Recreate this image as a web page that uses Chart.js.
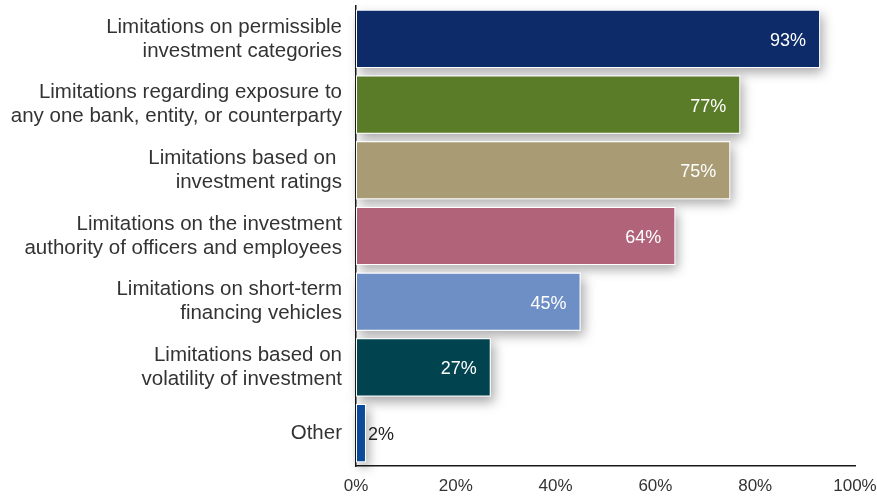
<!DOCTYPE html>
<html>
<head>
<meta charset="utf-8">
<script src="https://cdn.jsdelivr.net/npm/chart.js@4"></script>
<style>
  html, body { margin: 0; padding: 0; background: #fff; }
  #wrap { width: 877px; height: 497px; position: relative; }
</style>
</head>
<body>
<div id="wrap"><canvas id="myChart"></canvas></div>
<script>
const categories = [
  ["Limitations on permissible", "investment categories"],
  ["Limitations regarding exposure to", "any one bank, entity, or counterparty"],
  ["Limitations based on ", "investment ratings"],
  ["Limitations on the investment", "authority of officers and employees"],
  ["Limitations on short-term", "financing vehicles"],
  ["Limitations based on", "volatility of investment"],
  "Other",
];
const values = [93, 77, 75, 64, 45, 27, 2];
const barColors = ["#0d2b69", "#5a7b27", "#a99c75", "#b16479", "#6e8fc6", "#01444f", "#0a4a99"];
const xTicks = [0, 20, 40, 60, 80, 100];

const FONT = "'Liberation Sans', Arial, sans-serif";

// soft drop shadow behind each bar, drawn before the bars themselves
const barShadow = {
  id: "barShadow",
  beforeDatasetsDraw(chart) {
    const ctx = chart.ctx;
    ctx.save();
    ctx.shadowColor = "rgba(0,0,0,0.35)";
    ctx.shadowBlur = 11;
    ctx.shadowOffsetX = 3;
    ctx.shadowOffsetY = 5;
    ctx.fillStyle = "#fff";
    chart.getDatasetMeta(0).data.forEach((bar) => {
      const left = Math.min(bar.base, bar.x);
      ctx.fillRect(left, bar.y - bar.height / 2, Math.abs(bar.x - bar.base), bar.height);
    });
    ctx.restore();
  },
};

// percentage labels at the end of each bar
const valueLabels = {
  id: "valueLabels",
  afterDatasetsDraw(chart) {
    const ctx = chart.ctx;
    ctx.save();
    ctx.font = "18px " + FONT;
    ctx.textBaseline = "middle";
    chart.getDatasetMeta(0).data.forEach((bar, i) => {
      const text = values[i] + "%";
      if (values[i] < 10) {
        ctx.fillStyle = "#222";
        ctx.textAlign = "left";
        ctx.fillText(text, bar.x + 2, bar.y + 2);
      } else {
        ctx.fillStyle = "#fff";
        ctx.textAlign = "right";
        ctx.fillText(text, bar.x - 14, bar.y + 2);
      }
    });
    ctx.restore();
  },
};

const ctx = document.getElementById("myChart");
new Chart(ctx, {
  type: "bar",
  data: {
    labels: categories,
    datasets: [
      {
        data: values,
        backgroundColor: barColors,
        borderColor: "rgba(255,255,255,0.85)",
        borderWidth: 1,
        borderSkipped: false,
        categoryPercentage: 1,
        barPercentage: 0.885,
      },
    ],
  },
  plugins: [barShadow, valueLabels],
  options: {
    responsive: true,
    maintainAspectRatio: false,
    animation: false,
    indexAxis: "y",
    layout: { padding: { top: 6, right: 22, bottom: 0, left: 0 } },
    plugins: {
      legend: { display: false },
      tooltip: { enabled: false },
    },
    scales: {
      x: {
        min: 0,
        max: 100,
        afterBuildTicks: (axis) => {
          axis.ticks = xTicks.map((v) => ({ value: v }));
        },
        afterFit: (axis) => {
          axis.height = 31;
          axis.paddingLeft = 0;
          axis.paddingRight = 0;
        },
        ticks: {
          color: "#333",
          font: { size: 17, family: FONT },
          padding: 10,
          callback: (v) => v + "%",
        },
        grid: { display: false, drawTicks: false },
        border: { display: true, color: "#1a1a1a", width: 1.5 },
      },
      y: {
        afterFit: (axis) => {
          axis.width = 356;
          axis.paddingTop = 0;
          axis.paddingBottom = 0;
        },
        ticks: {
          color: "#333",
          font: { size: 20.5, family: FONT, lineHeight: 1.17 },
          padding: 14,
        },
        grid: { display: false, drawTicks: false },
        border: { display: true, color: "#1a1a1a", width: 1.5 },
      },
    },
  },
});
</script>
</body>
</html>
